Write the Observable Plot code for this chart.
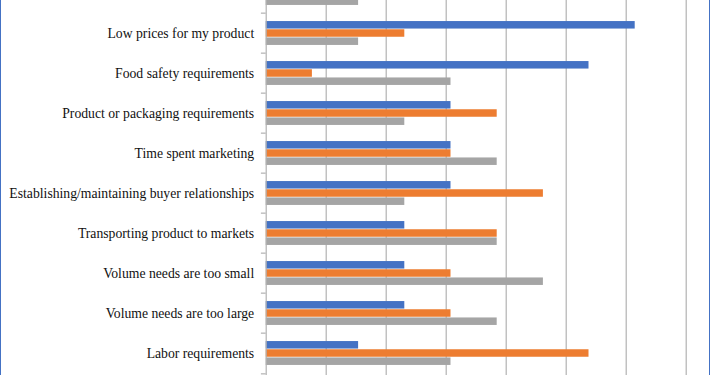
<!DOCTYPE html>
<html>
<head>
<meta charset="utf-8">
<script src="https://cdn.jsdelivr.net/npm/d3@7"></script>
<script src="https://cdn.jsdelivr.net/npm/@observablehq/plot@0.6"></script>
<style>
  html, body { margin: 0; padding: 0; background: #fff; }
  #wrap { position: relative; width: 710px; height: 375px; overflow: hidden; background: #fff; }
  #chart { position: absolute; left: 0; top: -30.7px; }
  #chart svg, #chart svg text { font-family: "Liberation Serif", "Times New Roman", serif !important; font-size: 13.7px !important; }
  .edge { position: absolute; top: 0; width: 1.3px; height: 375px; background: #4472c4; }
</style>
</head>
<body>
<div id="wrap">
  <div id="chart"></div>
  <div class="edge" style="left:0"></div>
  <div class="edge" style="left:708.7px"></div>
</div>
<script>
// Categories, top to bottom (the first one is cut off at the top of the picture)
const hiddenCategory = "(cut off above)";
const categories = [
  hiddenCategory,
  "Low prices for my product",
  "Food safety requirements",
  "Product or packaging requirements",
  "Time spent marketing",
  "Establishing/maintaining buyer relationships",
  "Transporting product to markets",
  "Volume needs are too small",
  "Volume needs are too large",
  "Labor requirements"
];
// Percent of respondents (grid step = 10%)
const series1 = [null, 61.5, 53.8, 30.8, 30.8, 30.8, 23.1, 23.1, 23.1, 15.4]; // blue
const series2 = [null, 23.1, 7.7, 38.5, 30.8, 46.2, 38.5, 30.8, 30.8, 53.8];  // orange
const series3 = [15.4, 15.4, 30.8, 23.1, 38.5, 23.1, 38.5, 46.2, 38.5, 30.8]; // gray
const xTicks = [10, 20, 30, 40, 50, 60, 70];

const colors = ["#4472C4", "#ED7D31", "#A5A5A5"];
const seriesList = [series1, series2, series3];

const step = 40.7, barH = 8.2;
const groupPad = (step - 3 * barH) / 2;
const gridColor = "#b2b2b2";

const rows = seriesList.map(s => categories.map((c, i) => ({category: c, value: s[i]})).filter(d => d.value != null));

const marks = [
  Plot.ruleX(xTicks, {stroke: gridColor, strokeWidth: 1.2}),
  ...rows.map((data, k) => Plot.barX(data, {
    x: "value", y: "category", fill: colors[k],
    insetTop: groupPad + k * barH,
    insetBottom: step - groupPad - (k + 1) * barH
  })),
  Plot.ruleX([0], {stroke: gridColor, strokeWidth: 1.2}),
  // category boundary ticks
  Plot.ruleY(categories, {y: d => d, dy: -step / 2, x1: -0.8, x2: 0, stroke: gridColor, strokeWidth: 1.2}),
  Plot.ruleY([categories[categories.length - 1]], {y: d => d, dy: step / 2, x1: -0.8, x2: 0, stroke: gridColor, strokeWidth: 1.2}),
  Plot.axisY({ticks: categories.slice(1), tickSize: 0, tickPadding: 12, fill: "#111"})
];

const chart = Plot.plot({
  width: 710,
  height: step * categories.length + 30,
  marginLeft: 265.7,
  marginRight: 24.3,
  marginTop: 0,
  marginBottom: 30,
  style: {background: "#fff", color: "#111"},
  x: {domain: [0, 70], axis: null},
  y: {domain: categories, padding: 0, label: null},
  marks
});
document.getElementById("chart").appendChild(chart);
</script>
</body>
</html>
